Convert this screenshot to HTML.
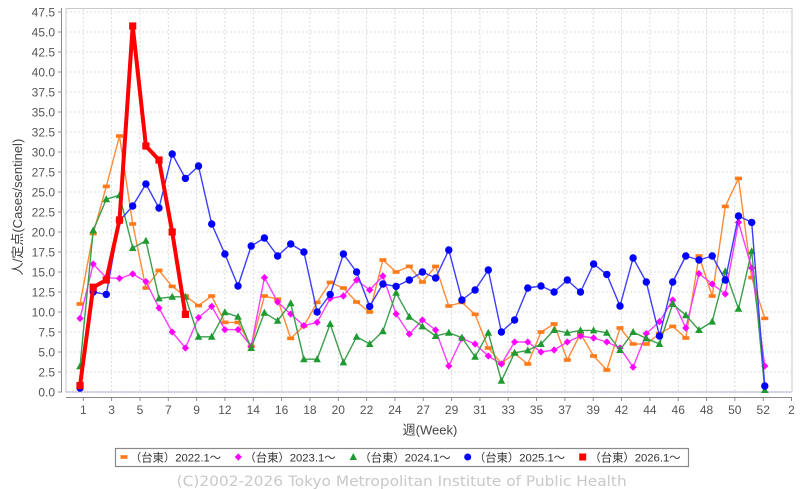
<!DOCTYPE html>
<html><head><meta charset="utf-8">
<style>
html,body{margin:0;padding:0;background:#fff;}
svg{display:block;}
text{font-family:"Liberation Sans","Noto Sans CJK JP",sans-serif;}
</style></head>
<body>
<svg width="805" height="489" viewBox="0 0 805 489" xmlns="http://www.w3.org/2000/svg">
<defs>
<marker id="mo" markerUnits="userSpaceOnUse" markerWidth="10" markerHeight="10" viewBox="-5 -5 10 10" refX="0" refY="0" overflow="visible"><rect x="-3.5" y="-1.8" width="7" height="3.6" fill="#ff7a1a"/></marker>
<marker id="mm" markerUnits="userSpaceOnUse" markerWidth="10" markerHeight="10" viewBox="-5 -5 10 10" refX="0" refY="0" overflow="visible"><polygon points="0,-3.6 3.6,0 0,3.6 -3.6,0" fill="#ff00ff"/></marker>
<marker id="mg" markerUnits="userSpaceOnUse" markerWidth="10" markerHeight="10" viewBox="-5 -5 10 10" refX="0" refY="0" overflow="visible"><polygon points="0,-4 3.8,3 -3.8,3" fill="#1e9a30"/></marker>
<marker id="mb" markerUnits="userSpaceOnUse" markerWidth="10" markerHeight="10" viewBox="-5 -5 10 10" refX="0" refY="0" overflow="visible"><circle cx="0" cy="0" r="3.7" fill="#0000ff"/></marker>
<marker id="mr" markerUnits="userSpaceOnUse" markerWidth="10" markerHeight="10" viewBox="-5 -5 10 10" refX="0" refY="0" overflow="visible"><rect x="-3.6" y="-3.6" width="7.2" height="7.2" fill="#ff0000"/></marker>
</defs>

<!-- plot area -->
<rect x="66" y="8.5" width="726" height="383.5" fill="#fff" stroke="#c8c8c8" stroke-width="1"/>
<g stroke="#dcdcdc" stroke-width="1" stroke-dasharray="2,2" fill="none">
<line x1="66" x2="792" y1="372" y2="372"/><line x1="66" x2="792" y1="352" y2="352"/><line x1="66" x2="792" y1="332" y2="332"/><line x1="66" x2="792" y1="312" y2="312"/><line x1="66" x2="792" y1="292" y2="292"/><line x1="66" x2="792" y1="272" y2="272"/><line x1="66" x2="792" y1="252" y2="252"/><line x1="66" x2="792" y1="232" y2="232"/><line x1="66" x2="792" y1="212" y2="212"/><line x1="66" x2="792" y1="192" y2="192"/><line x1="66" x2="792" y1="172" y2="172"/><line x1="66" x2="792" y1="152" y2="152"/><line x1="66" x2="792" y1="132" y2="132"/><line x1="66" x2="792" y1="112" y2="112"/><line x1="66" x2="792" y1="92" y2="92"/><line x1="66" x2="792" y1="72" y2="72"/><line x1="66" x2="792" y1="52" y2="52"/><line x1="66" x2="792" y1="32" y2="32"/><line x1="66" x2="792" y1="12" y2="12"/>
<line y1="9" y2="392" x1="83.3" x2="83.3"/><line y1="9" y2="392" x1="111.6" x2="111.6"/><line y1="9" y2="392" x1="140" x2="140"/><line y1="9" y2="392" x1="168.3" x2="168.3"/><line y1="9" y2="392" x1="196.6" x2="196.6"/><line y1="9" y2="392" x1="224.9" x2="224.9"/><line y1="9" y2="392" x1="253.3" x2="253.3"/><line y1="9" y2="392" x1="281.6" x2="281.6"/><line y1="9" y2="392" x1="309.9" x2="309.9"/><line y1="9" y2="392" x1="338.3" x2="338.3"/><line y1="9" y2="392" x1="366.6" x2="366.6"/><line y1="9" y2="392" x1="394.9" x2="394.9"/><line y1="9" y2="392" x1="423.2" x2="423.2"/><line y1="9" y2="392" x1="451.6" x2="451.6"/><line y1="9" y2="392" x1="479.9" x2="479.9"/><line y1="9" y2="392" x1="508.2" x2="508.2"/><line y1="9" y2="392" x1="536.5" x2="536.5"/><line y1="9" y2="392" x1="564.9" x2="564.9"/><line y1="9" y2="392" x1="593.2" x2="593.2"/><line y1="9" y2="392" x1="621.5" x2="621.5"/><line y1="9" y2="392" x1="649.9" x2="649.9"/><line y1="9" y2="392" x1="678.2" x2="678.2"/><line y1="9" y2="392" x1="706.5" x2="706.5"/><line y1="9" y2="392" x1="734.8" x2="734.8"/><line y1="9" y2="392" x1="763.2" x2="763.2"/>
</g>
<line x1="66" x2="792" y1="392" y2="392" stroke="#8c8cd8" stroke-width="1" stroke-dasharray="1.5,1.5"/>

<!-- axes -->
<g stroke="#8a8a8a" stroke-width="1">
<line x1="61.5" x2="61.5" y1="8" y2="392.5"/>
<line x1="66" x2="792" y1="397.5" y2="397.5"/>
<line x1="58" x2="61.5" y1="392" y2="392"/><line x1="58" x2="61.5" y1="372" y2="372"/><line x1="58" x2="61.5" y1="352" y2="352"/><line x1="58" x2="61.5" y1="332" y2="332"/><line x1="58" x2="61.5" y1="312" y2="312"/><line x1="58" x2="61.5" y1="292" y2="292"/><line x1="58" x2="61.5" y1="272" y2="272"/><line x1="58" x2="61.5" y1="252" y2="252"/><line x1="58" x2="61.5" y1="232" y2="232"/><line x1="58" x2="61.5" y1="212" y2="212"/><line x1="58" x2="61.5" y1="192" y2="192"/><line x1="58" x2="61.5" y1="172" y2="172"/><line x1="58" x2="61.5" y1="152" y2="152"/><line x1="58" x2="61.5" y1="132" y2="132"/><line x1="58" x2="61.5" y1="112" y2="112"/><line x1="58" x2="61.5" y1="92" y2="92"/><line x1="58" x2="61.5" y1="72" y2="72"/><line x1="58" x2="61.5" y1="52" y2="52"/><line x1="58" x2="61.5" y1="32" y2="32"/><line x1="58" x2="61.5" y1="12" y2="12"/>
<line y1="397.5" y2="401" x1="83.3" x2="83.3"/><line y1="397.5" y2="401" x1="111.6" x2="111.6"/><line y1="397.5" y2="401" x1="140" x2="140"/><line y1="397.5" y2="401" x1="168.3" x2="168.3"/><line y1="397.5" y2="401" x1="196.6" x2="196.6"/><line y1="397.5" y2="401" x1="224.9" x2="224.9"/><line y1="397.5" y2="401" x1="253.3" x2="253.3"/><line y1="397.5" y2="401" x1="281.6" x2="281.6"/><line y1="397.5" y2="401" x1="309.9" x2="309.9"/><line y1="397.5" y2="401" x1="338.3" x2="338.3"/><line y1="397.5" y2="401" x1="366.6" x2="366.6"/><line y1="397.5" y2="401" x1="394.9" x2="394.9"/><line y1="397.5" y2="401" x1="423.2" x2="423.2"/><line y1="397.5" y2="401" x1="451.6" x2="451.6"/><line y1="397.5" y2="401" x1="479.9" x2="479.9"/><line y1="397.5" y2="401" x1="508.2" x2="508.2"/><line y1="397.5" y2="401" x1="536.5" x2="536.5"/><line y1="397.5" y2="401" x1="564.9" x2="564.9"/><line y1="397.5" y2="401" x1="593.2" x2="593.2"/><line y1="397.5" y2="401" x1="621.5" x2="621.5"/><line y1="397.5" y2="401" x1="649.9" x2="649.9"/><line y1="397.5" y2="401" x1="678.2" x2="678.2"/><line y1="397.5" y2="401" x1="706.5" x2="706.5"/><line y1="397.5" y2="401" x1="734.8" x2="734.8"/><line y1="397.5" y2="401" x1="763.2" x2="763.2"/><line y1="397.5" y2="401" x1="791.5" x2="791.5"/>
</g>

<!-- y labels -->
<g font-size="12" fill="#555" text-anchor="end">
<text x="55" y="396.3">0.0</text><text x="55" y="376.3">2.5</text><text x="55" y="356.3">5.0</text><text x="55" y="336.3">7.5</text><text x="55" y="316.3">10.0</text><text x="55" y="296.3">12.5</text><text x="55" y="276.3">15.0</text><text x="55" y="256.3">17.5</text><text x="55" y="236.3">20.0</text><text x="55" y="216.3">22.5</text><text x="55" y="196.3">25.0</text><text x="55" y="176.3">27.5</text><text x="55" y="156.3">30.0</text><text x="55" y="136.3">32.5</text><text x="55" y="116.3">35.0</text><text x="55" y="96.3">37.5</text><text x="55" y="76.3">40.0</text><text x="55" y="56.3">42.5</text><text x="55" y="36.3">45.0</text><text x="55" y="16.3">47.5</text>
</g>
<!-- x labels -->
<g font-size="12" fill="#555" text-anchor="middle">
<text x="83.3" y="414">1</text><text x="111.6" y="414">3</text><text x="140" y="414">5</text><text x="168.3" y="414">7</text><text x="196.6" y="414">9</text><text x="224.9" y="414">12</text><text x="253.3" y="414">14</text><text x="281.6" y="414">16</text><text x="309.9" y="414">18</text><text x="338.3" y="414">20</text><text x="366.6" y="414">22</text><text x="394.9" y="414">24</text><text x="423.2" y="414">27</text><text x="451.6" y="414">29</text><text x="479.9" y="414">31</text><text x="508.2" y="414">33</text><text x="536.5" y="414">35</text><text x="564.9" y="414">37</text><text x="593.2" y="414">39</text><text x="621.5" y="414">42</text><text x="649.9" y="414">44</text><text x="678.2" y="414">46</text><text x="706.5" y="414">48</text><text x="734.8" y="414">50</text><text x="763.2" y="414">52</text><text x="791.5" y="414">2</text>
</g>
<text x="430" y="434.5" font-size="13" fill="#444" text-anchor="middle">週(Week)</text>
<text transform="translate(22,207) rotate(-90)" font-size="13" fill="#444" text-anchor="middle">人/定点(Cases/sentinel)</text>

<!-- series -->
<polyline fill="none" stroke="#ff8a3a" stroke-width="1.4" stroke-linejoin="round" marker-start="url(#mo)" marker-mid="url(#mo)" marker-end="url(#mo)" points="80,304 93.2,233.6 106.3,186.4 119.5,136 132.7,224 145.9,288 159,270.4 172.2,286.4 185.4,296 198.5,305.6 211.7,296 224.9,322.4 238,322.4 251.2,346.4 264.4,296 277.6,299.2 290.7,338.4 303.9,326 317.1,302.4 330.2,282.4 343.4,288 356.6,302 369.7,312 382.9,260 396.1,272 409.3,266.4 422.4,282 435.6,266.4 448.8,306 461.9,302.4 475.1,314.4 488.3,348 501.4,363.2 514.6,353.6 527.8,364 541,332 554.1,324 567.3,360 580.5,333.6 593.6,356 606.8,370 620,328 633.1,344 646.3,344 659.5,333.6 672.7,326.4 685.8,338 699,256 712.2,296 725.3,206.4 738.5,178.4 751.7,277.6 764.8,318.4"/>
<polyline fill="none" stroke="#ff3cff" stroke-width="1.4" stroke-linejoin="round" marker-start="url(#mm)" marker-mid="url(#mm)" marker-end="url(#mm)" points="80,318.4 93.2,264 106.3,277.6 119.5,278.4 132.7,274 145.9,281.6 159,308 172.2,332 185.4,348 198.5,317.6 211.7,306.4 224.9,329.6 238,329.6 251.2,346.4 264.4,277.6 277.6,302 290.7,314 303.9,325.6 317.1,322.4 330.2,298.4 343.4,296 356.6,280 369.7,290 382.9,276 396.1,314 409.3,334 422.4,320 435.6,330 448.8,366 461.9,338.4 475.1,344 488.3,356 501.4,364 514.6,342 527.8,342 541,352 554.1,350 567.3,342 580.5,336 593.6,338 606.8,342 620,348 633.1,367.2 646.3,333.6 659.5,321.6 672.7,300 685.8,328 699,273.6 712.2,284 725.3,294 738.5,222.4 751.7,268 764.8,366"/>
<polyline fill="none" stroke="#3a9e4c" stroke-width="1.4" stroke-linejoin="round" marker-start="url(#mg)" marker-mid="url(#mg)" marker-end="url(#mg)" points="80,366.4 93.2,230.4 106.3,199.2 119.5,195.2 132.7,248 145.9,240.8 159,298.4 172.2,296.8 185.4,296.8 198.5,336.8 211.7,336.8 224.9,312.3 238,316.8 251.2,348 264.4,312.8 277.6,320.8 290.7,303.2 303.9,359.2 317.1,359.2 330.2,324 343.4,362.4 356.6,336.8 369.7,344 382.9,331.2 396.1,292.8 409.3,316.8 422.4,326.4 435.6,336 448.8,332.8 461.9,337.6 475.1,356.8 488.3,332.8 501.4,380.8 514.6,352.8 527.8,350.4 541,344 554.1,330 567.3,332.8 580.5,330.4 593.6,330.4 606.8,332.8 620,350 633.1,332 646.3,338.4 659.5,344 672.7,304 685.8,315.2 699,330 712.2,321.6 725.3,271.2 738.5,308.8 751.7,251.2 764.8,390"/>
<polyline fill="none" stroke="#3c3cff" stroke-width="1.4" stroke-linejoin="round" marker-start="url(#mb)" marker-mid="url(#mb)" marker-end="url(#mb)" points="80,388 93.2,292 106.3,294.4 119.5,220.8 132.7,206 145.9,184 159,208 172.2,154 185.4,178.4 198.5,166 211.7,224 224.9,254 238,286 251.2,246 264.4,238 277.6,256 290.7,244 303.9,252 317.1,312 330.2,294.4 343.4,254 356.6,272 369.7,306.4 382.9,284 396.1,286.4 409.3,280 422.4,272 435.6,278 448.8,250 461.9,300 475.1,290 488.3,270 501.4,332 514.6,320 527.8,288 541,286 554.1,292 567.3,280 580.5,292 593.6,264 606.8,274.4 620,306 633.1,258 646.3,282 659.5,336 672.7,282 685.8,256 699,260 712.2,256 725.3,280 738.5,216 751.7,222.4 764.8,386"/>
<polyline fill="none" stroke="#ff0000" stroke-width="4" stroke-linejoin="round" marker-start="url(#mr)" marker-mid="url(#mr)" marker-end="url(#mr)" points="80,385.6 93.2,287.2 106.3,280 119.5,220 132.7,26 145.9,146 159,160 172.2,232 185.4,314.4"/>

<!-- legend -->
<rect x="115.5" y="448.5" width="573" height="18" fill="#fff" stroke="#8a8a8a" stroke-width="1.2"/>
<rect x="120.5" y="455.2" width="7" height="3.6" fill="#ff7a1a"/>
<polygon points="238.3,453.4 241.9,457 238.3,460.6 234.7,457" fill="#ff00ff"/>
<polygon points="353.3,453 357,460 349.6,460" fill="#1e9a30"/>
<circle cx="467.7" cy="457" r="3.5" fill="#0000ff"/>
<rect x="579.2" y="453.5" width="7" height="7" fill="#ff0000"/>
<g font-size="11.3" fill="#333">
<text x="130" y="461.5">（台東）2022.1～</text>
<text x="244.5" y="461.5">（台東）2023.1～</text>
<text x="359.5" y="461.5">（台東）2024.1～</text>
<text x="474" y="461.5">（台東）2025.1～</text>
<text x="589.5" y="461.5">（台東）2026.1～</text>
</g>
<text x="176.7" y="486" font-size="14" fill="#c8c8c8" textLength="450" lengthAdjust="spacingAndGlyphs" style="font-family:'DejaVu Sans','Liberation Sans',sans-serif">(C)2002-2026 Tokyo Metropolitan Institute of Public Health</text>
</svg>
</body></html>
